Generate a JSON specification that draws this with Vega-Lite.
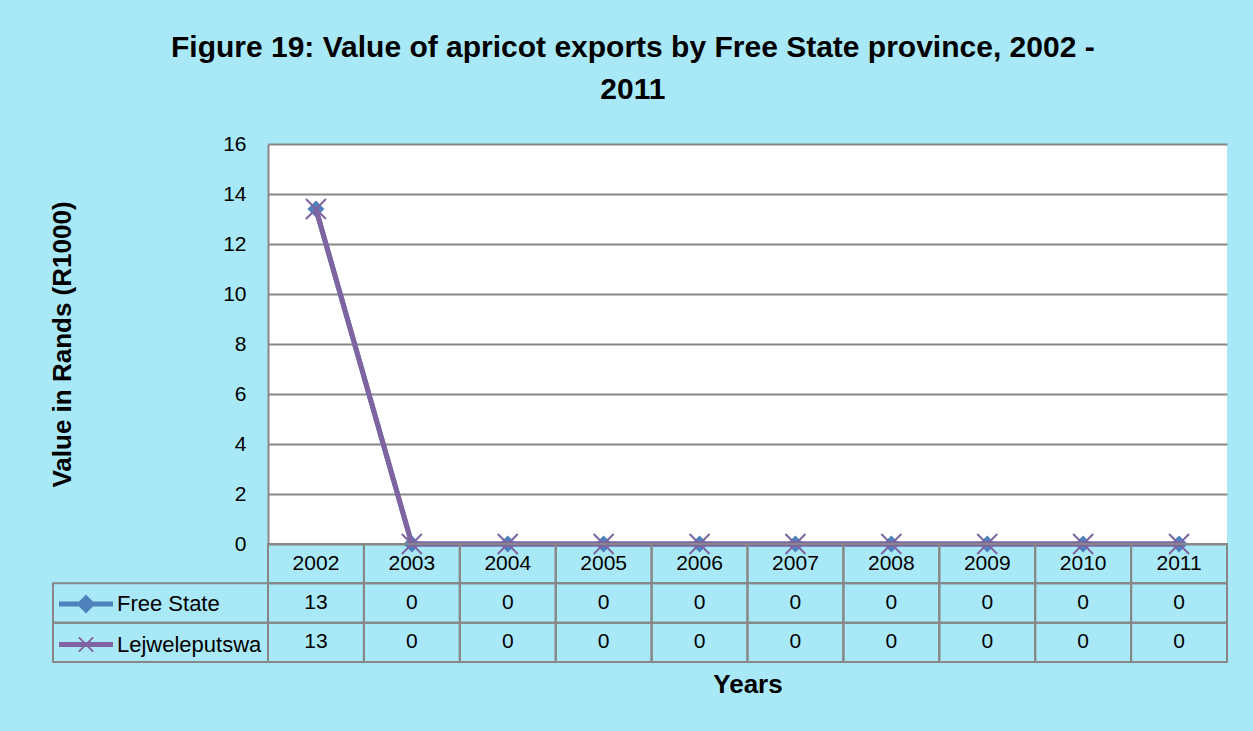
{
  "$schema": "https://vega.github.io/schema/vega-lite/v6.json",
  "autosize": {"type": "pad"},
  "padding": {"left": 49, "top": 33, "right": 26, "bottom": 34},
  "background": "#A9E9F7",
  "config": {
    "font": "Liberation Sans, Arial, sans-serif",
    "view": {"stroke": null},
    "concat": {"spacing": 0}
  },
  "title": {
    "text": ["Figure 19: Value of apricot exports by Free State province, 2002 -", "2011"],
    "fontSize": 30,
    "fontWeight": "bold",
    "color": "#000000",
    "lineHeight": 42,
    "anchor": "middle",
    "dx": -6,
    "offset": 28
  },
  "data": {
    "values": [
      {"year": "2002", "series": "Free State", "value": 13.4},
      {"year": "2003", "series": "Free State", "value": 0},
      {"year": "2004", "series": "Free State", "value": 0},
      {"year": "2005", "series": "Free State", "value": 0},
      {"year": "2006", "series": "Free State", "value": 0},
      {"year": "2007", "series": "Free State", "value": 0},
      {"year": "2008", "series": "Free State", "value": 0},
      {"year": "2009", "series": "Free State", "value": 0},
      {"year": "2010", "series": "Free State", "value": 0},
      {"year": "2011", "series": "Free State", "value": 0},
      {"year": "2002", "series": "Lejweleputswa", "value": 13.4},
      {"year": "2003", "series": "Lejweleputswa", "value": 0},
      {"year": "2004", "series": "Lejweleputswa", "value": 0},
      {"year": "2005", "series": "Lejweleputswa", "value": 0},
      {"year": "2006", "series": "Lejweleputswa", "value": 0},
      {"year": "2007", "series": "Lejweleputswa", "value": 0},
      {"year": "2008", "series": "Lejweleputswa", "value": 0},
      {"year": "2009", "series": "Lejweleputswa", "value": 0},
      {"year": "2010", "series": "Lejweleputswa", "value": 0},
      {"year": "2011", "series": "Lejweleputswa", "value": 0}
    ]
  },
  "columns": 2,
  "bounds": "flush",
  "spacing": 0,
  "concat": [
    {
      "width": 215,
      "height": 400,
      "transform": [{"filter": "datum.value < 0"}],
      "mark": {"type": "point", "opacity": 0},
      "encoding": {}
    },
    {
      "width": 959,
      "height": 400,
      "view": {"fill": "#FFFFFF", "stroke": null},
      "encoding": {
        "x": {
          "field": "year",
          "type": "ordinal",
          "scale": {"type": "band", "paddingInner": 0, "paddingOuter": 0},
          "axis": null
        },
        "y": {
          "field": "value",
          "type": "quantitative",
          "scale": {"domain": [0, 16], "nice": false},
          "axis": {
            "values": [0, 2, 4, 6, 8, 10, 12, 14, 16],
            "title": "Value in Rands (R1000)",
            "titleFontSize": 26,
            "titleFontWeight": "bold",
            "titleColor": "#000000",
            "titlePadding": 147,
            "labelFontSize": 21,
            "labelColor": "#000000",
            "labelPadding": 22,
            "ticks": false,
            "domainColor": "#878787",
            "domainWidth": 2,
            "gridColor": "#878787",
            "gridWidth": 2,
            "gridOpacity": 1
          }
        }
      },
      "layer": [
        {
          "transform": [{"filter": "datum.series === 'Free State'"}],
          "mark": {"type": "line", "strokeWidth": 5},
          "encoding": {
            "color": {
              "field": "series",
              "type": "nominal",
              "scale": {"domain": ["Free State", "Lejweleputswa"], "range": ["#4F81BD", "#8064A2"]},
              "legend": {
                "orient": "none",
                "legendX": 19,
                "legendY": 446,
                "title": null,
                "padding": 0,
                "rowPadding": 13.5,
                "labelFontSize": 22,
                "labelColor": "#000000",
                "labelOffset": 17,
                "symbolSize": 676,
                "symbolStrokeWidth": 2,
                "encode": {
                  "symbols": {
                    "update": {
                      "shape": {"signal": "datum.value === 'Free State' ? 'M-2,-0.115H2V0.115H-2Z M0,-0.62L0.62,0L0,0.62L-0.62,0Z' : 'M-2,-0.115H2V0.115H-2Z M-0.55,-0.55L0.55,0.55 M-0.55,0.55L0.55,-0.55'"},
                      "fill": {"signal": "datum.value === 'Free State' ? '#4F81BD' : '#8064A2'"},
                      "stroke": {"signal": "datum.value === 'Free State' ? '#4F81BD' : '#8064A2'"},
                      "strokeWidth": {"value": 2},
                      "opacity": {"value": 1},
                      "fillOpacity": {"value": 1},
                      "strokeOpacity": {"value": 1}
                    }
                  }
                }
              }
            }
          }
        },
        {
          "transform": [{"filter": "datum.series === 'Free State'"}],
          "mark": {"type": "point", "shape": "diamond", "filled": true, "size": 289, "color": "#4F81BD", "opacity": 1}
        },
        {
          "transform": [{"filter": "datum.series === 'Lejweleputswa'"}],
          "mark": {"type": "line", "strokeWidth": 5},
          "encoding": {
            "color": {"field": "series", "type": "nominal"}
          }
        },
        {
          "transform": [{"filter": "datum.series === 'Lejweleputswa'"}],
          "mark": {"type": "point", "shape": "M-1,-1L1,1M-1,1L1,-1", "filled": false, "size": 400, "stroke": "#8064A2", "strokeWidth": 2, "opacity": 1}
        }
      ]
    },
    {
      "width": 215,
      "height": 118,
      "transform": [{"filter": "datum.year === '2002'"}],
      "mark": {"type": "rect", "fill": null, "stroke": "#878787", "strokeWidth": 2},
      "encoding": {
        "y": {
          "field": "series",
          "type": "nominal",
          "scale": {"type": "band", "domain": ["hdr", "Free State", "Lejweleputswa"], "paddingInner": 0, "paddingOuter": 0},
          "axis": null
        }
      }
    },
    {
      "width": 959,
      "height": 118,
      "encoding": {
        "x": {
          "field": "year",
          "type": "ordinal",
          "scale": {"type": "band", "paddingInner": 0, "paddingOuter": 0},
          "axis": {
            "orient": "bottom",
            "labels": false,
            "ticks": false,
            "domain": false,
            "grid": false,
            "title": "Years",
            "titleFontSize": 26,
            "titleFontWeight": "bold",
            "titleColor": "#000000",
            "titlePadding": 9
          }
        }
      },
      "layer": [
        {
          "transform": [{"filter": "datum.series === 'Free State'"}],
          "mark": {"type": "rect", "fill": null, "stroke": "#878787", "strokeWidth": 2},
          "encoding": {
            "y": {
              "datum": "hdr",
              "type": "nominal",
              "scale": {"type": "band", "domain": ["hdr", "Free State", "Lejweleputswa"], "paddingInner": 0, "paddingOuter": 0},
              "axis": null
            }
          }
        },
        {
          "transform": [{"filter": "datum.series === 'Free State'"}],
          "mark": {"type": "text", "fontSize": 21, "color": "#000000", "baseline": "middle", "align": "center"},
          "encoding": {
            "y": {"datum": "hdr", "type": "nominal"},
            "text": {"field": "year", "type": "nominal"}
          }
        },
        {
          "mark": {"type": "rect", "fill": null, "stroke": "#878787", "strokeWidth": 2},
          "encoding": {
            "y": {"field": "series", "type": "nominal"}
          }
        },
        {
          "mark": {"type": "text", "fontSize": 21, "color": "#000000", "baseline": "middle", "align": "center"},
          "encoding": {
            "y": {"field": "series", "type": "nominal"},
            "text": {"field": "value", "type": "quantitative", "format": ".0f"}
          }
        }
      ]
    }
  ]
}
